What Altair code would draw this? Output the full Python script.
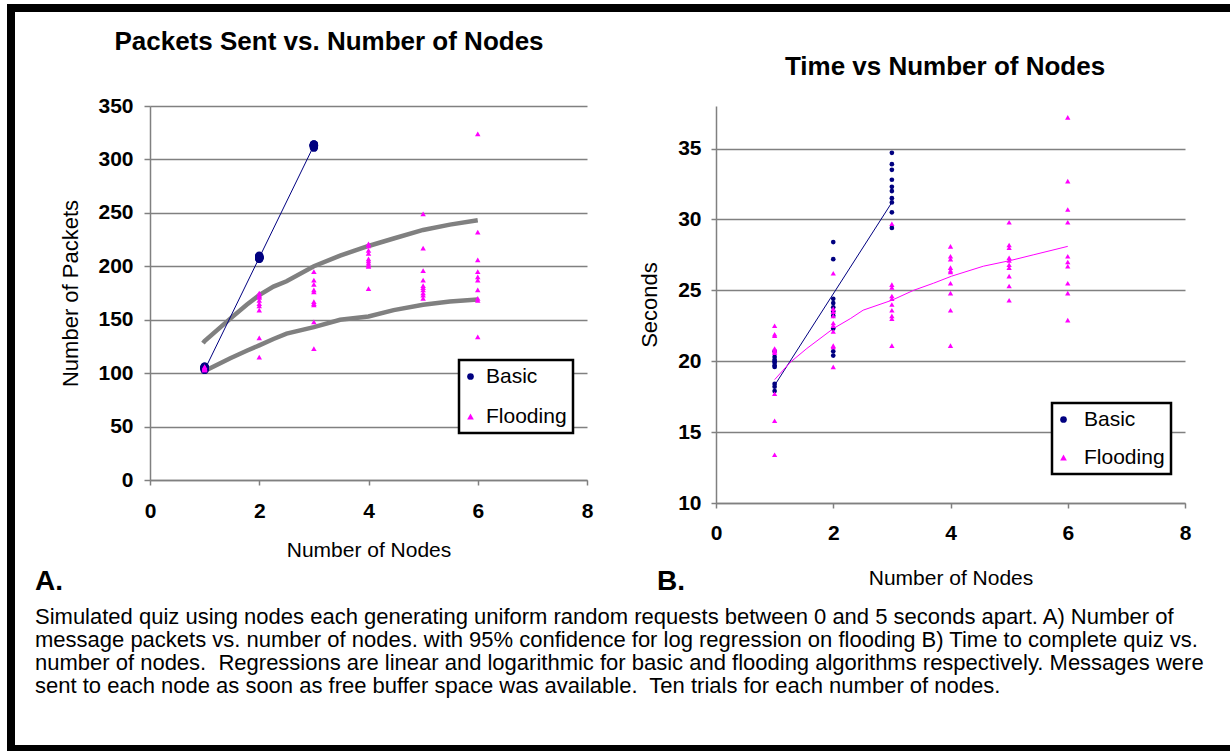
import altair as alt
import pandas as pd

FONT = "Liberation Sans"
GRAY = "#808080"
NAVY = "#000080"
MAGENTA = "#FF00FF"

# ---------------- Panel A: packets vs nodes ----------------
basic_packets = {
    1: [105, 104, 106, 105, 104, 106, 105, 103, 105, 104],
    2: [208, 209, 207, 208, 210, 208, 207, 209, 208, 208],
    3: [313, 312, 314, 313, 311, 313, 314, 312, 313, 313],
}
flood_packets = {
    1: [104, 105, 103, 104, 106, 105, 104, 103, 105, 104],
    2: [175, 173, 171, 168, 165, 163, 159, 133, 115, 172],
    3: [195, 187, 183, 176, 167, 164, 148, 123, 178, 165],
    4: [221, 215, 207, 203, 200, 179, 219, 212, 205, 201],
    5: [249, 217, 196, 187, 182, 178, 173, 170, 180, 175],
    6: [324, 232, 206, 195, 187, 178, 168, 134, 170, 190],
}
basic_fit_nodes = [1, 3]
basic_fit_packets = [103, 313]
band_nodes = [0.97, 1.0, 1.47, 1.77, 2.0, 2.26, 2.5, 3.0, 3.48, 4.0, 4.46, 5.0, 5.49, 6.0]
band_upper = [128, 130, 151, 164, 173, 181, 186, 200, 210, 219, 226, 234, 239, 243]
band_lower = [101, 102, 114, 121, 126, 132, 137, 143, 150, 153, 159, 164, 167, 169]

# ---------------- Panel B: time vs nodes ----------------
basic_time = {
    1: [20.7, 20.3, 20.1, 19.9, 19.7, 19.6, 18.4, 18.2, 17.9, 20.0],
    2: [28.4, 27.2, 24.4, 24.1, 23.8, 23.5, 23.2, 22.3, 20.7, 20.4],
    3: [34.7, 33.9, 33.5, 32.8, 32.3, 32.0, 31.5, 31.2, 30.5, 29.4],
}
flood_time = {
    1: [22.5, 21.9, 21.8, 20.9, 20.7, 20.6, 17.7, 15.8, 13.4, 20.8],
    2: [26.2, 23.7, 23.2, 22.7, 22.1, 21.0, 19.6, 22.5, 23.5, 21.1],
    3: [29.7, 25.4, 24.6, 24.0, 23.6, 23.2, 21.1, 25.2, 23.0, 24.4],
    4: [28.1, 27.4, 26.6, 26.3, 25.5, 24.8, 23.6, 21.1, 27.2, 26.4],
    5: [29.8, 28.2, 27.3, 26.8, 26.0, 25.3, 24.3, 28.0, 26.6, 27.1],
    6: [37.2, 32.7, 30.7, 29.8, 27.4, 27.0, 25.5, 24.8, 22.9, 26.7],
}
basic_time_fit_nodes = [1, 3]
basic_time_fit = [18.3, 31.2]
flood_fit_nodes = [1.0, 1.26, 1.55, 2.0, 2.29, 2.51, 3.0, 3.37, 3.71, 4.02, 4.56, 5.02, 5.41, 6.0]
flood_fit_time = [18.7, 19.9, 20.9, 22.3, 23.0, 23.6, 24.3, 25.0, 25.5, 26.0, 26.7, 27.1, 27.5, 28.1]

x_ticks = [0, 2, 4, 6, 8]
packet_ticks = [0, 50, 100, 150, 200, 250, 300, 350]
second_ticks = [10, 15, 20, 25, 30, 35]
series_names = ["Basic", "Flooding"]

title_a = "Packets Sent vs. Number of Nodes"
title_b = "Time vs Number of Nodes"
caption_lines = [
    "Simulated quiz using nodes each generating uniform random requests between 0 and 5 seconds apart. A) Number of",
    "message packets vs. number of nodes. with 95% confidence for log regression on flooding B) Time to complete quiz vs.",
    "number of nodes.\u00a0 Regressions are linear and logarithmic for basic and flooding algorithms respectively. Messages were",
    "sent to each node as soon as free buffer space was available.\u00a0 Ten trials for each number of nodes.",
]


def long_df(d, name):
    rows = []
    for n, vals in d.items():
        for v in vals:
            rows.append({"nodes": n, "value": v, "series": name})
    return pd.DataFrame(rows)


one = pd.DataFrame({"k": [0]})


def xenc(padding, title_pad):
    return alt.X(
        "nodes:Q",
        scale=alt.Scale(domain=[0, 8], nice=False, zero=False),
        axis=alt.Axis(
            values=x_ticks, title="Number of Nodes", grid=False,
            labelFont=FONT, labelFontSize=21, labelFontWeight="bold", labelColor="black",
            labelPadding=padding, labelFlush=False, labelOverlap=False,
            tickSize=5, tickColor=GRAY, tickWidth=1.5,
            domainColor=GRAY, domainWidth=1.5,
            titleFont=FONT, titleFontSize=21, titleFontWeight="normal", titleColor="black",
            titlePadding=title_pad,
        ),
    )


def yenc(domain, ticks, title, label_pad, tick_size, title_pad):
    return alt.Y(
        "value:Q",
        scale=alt.Scale(domain=domain, nice=False, zero=False),
        axis=alt.Axis(
            values=ticks, title=title, grid=True, gridColor=GRAY, gridWidth=1.5,
            labelFont=FONT, labelFontSize=21, labelFontWeight="bold", labelColor="black",
            labelPadding=label_pad, labelOverlap=False, format="d",
            tickSize=tick_size, tickColor=GRAY, tickWidth=1.5,
            domainColor=GRAY, domainWidth=1.5,
            titleFont=FONT, titleFontSize=22, titleFontWeight="normal", titleColor="black",
            titlePadding=title_pad,
        ),
    )


def legend(lx, ly, row_pad, label_off):
    return alt.Legend(
        title=None, orient="none", legendX=lx, legendY=ly,
        strokeColor="black", fillColor="white", padding=6,
        labelFont=FONT, labelFontSize=21, labelColor="black",
        symbolSize=45, rowPadding=row_pad, labelOffset=label_off, symbolOffset=-5,
        symbolStrokeWidth=0,
    )


def color_shape(leg):
    c = alt.Color("series:N", scale=alt.Scale(domain=series_names, range=[NAVY, MAGENTA]), legend=leg)
    s = alt.Shape("series:N", scale=alt.Scale(domain=series_names, range=["circle", "triangle-up"]), legend=leg)
    return c, s


# ---------- Left panel ----------
XA = xenc(15, 18)
YA = yenc([0, 350], packet_ticks, "Number of Packets", 11, 6, 15)
legA = legend(309, 254, 18, 5)
cA, sA = color_shape(legA)

# transparent frame fixing the page extent (0,0)-(1230,751)
frame = alt.Chart(one).mark_rect(color="white", opacity=0).encode(
    x=alt.value(-150), x2=alt.value(1080), y=alt.value(-106), y2=alt.value(645))
border_left = alt.Chart(one).mark_rect(color="black").encode(
    x=alt.value(-143), x2=alt.value(-135), y=alt.value(-102), y2=alt.value(645))
border_top = alt.Chart(one).mark_rect(color="black").encode(
    x=alt.value(-143), x2=alt.value(1080), y=alt.value(-102), y2=alt.value(-94))
border_bottom = alt.Chart(one).mark_rect(color="black").encode(
    x=alt.value(-143), x2=alt.value(1080), y=alt.value(639), y2=alt.value(645))

band_df = pd.concat([
    pd.DataFrame({"nodes": band_nodes, "value": band_upper, "band": "upper"}),
    pd.DataFrame({"nodes": band_nodes, "value": band_lower, "band": "lower"}),
])
bands = alt.Chart(band_df).mark_line(color=GRAY, strokeWidth=4.5).encode(
    x=XA, y=YA, detail="band:N")
fitA = alt.Chart(pd.DataFrame({"nodes": basic_fit_nodes, "value": basic_fit_packets})).mark_line(
    color=NAVY, strokeWidth=1).encode(x=XA, y=YA)
ptsA_basic = alt.Chart(long_df(basic_packets, "Basic")).mark_point(
    filled=True, size=70, opacity=1).encode(x=XA, y=YA, color=cA, shape=sA)
ptsA_flood = alt.Chart(long_df(flood_packets, "Flooding")).mark_point(
    filled=True, size=30, opacity=1).encode(x=XA, y=YA, color=cA, shape=sA)

titleA = alt.Chart(one).mark_text(font=FONT, fontSize=26, fontWeight="bold", color="black",
                                  baseline="middle", align="center").encode(
    x=alt.value(179), y=alt.value(-64), text=alt.value(title_a))
labelA = alt.Chart(one).mark_text(font=FONT, fontSize=28, fontWeight="bold", color="black",
                                  baseline="alphabetic", align="left").encode(
    x=alt.value(-115), y=alt.value(484), text=alt.value("A."))
labelB = alt.Chart(one).mark_text(font=FONT, fontSize=28, fontWeight="bold", color="black",
                                  baseline="alphabetic", align="left").encode(
    x=alt.value(507), y=alt.value(484), text=alt.value("B."))
caption = alt.Chart(one).mark_text(font=FONT, fontSize=22, color="black", baseline="alphabetic",
                                   align="left", lineBreak="\n", lineHeight=23).encode(
    x=alt.value(-115), y=alt.value(518), text=alt.value("\n".join(caption_lines)))

left = alt.layer(frame, border_left, border_top, border_bottom, bands, fitA, ptsA_basic, ptsA_flood,
                 titleA, labelA, labelB, caption).properties(width=437, height=374)

# ---------- Right panel ----------
XB = xenc(14, 24)
YB = yenc([10, 38], second_ticks, "Seconds", 10, 5, 16)
legB = legend(336, 297, 16, 10)
cB, sB = color_shape(legB)

fitB_basic = alt.Chart(pd.DataFrame({"nodes": basic_time_fit_nodes, "value": basic_time_fit})).mark_line(
    color=NAVY, strokeWidth=1).encode(x=XB, y=YB)
fitB_flood = alt.Chart(pd.DataFrame({"nodes": flood_fit_nodes, "value": flood_fit_time})).mark_line(
    color=MAGENTA, strokeWidth=1).encode(x=XB, y=YB)
ptsB_basic = alt.Chart(long_df(basic_time, "Basic")).mark_point(
    filled=True, size=22, opacity=1).encode(x=XB, y=YB, color=cB, shape=sB)
ptsB_flood = alt.Chart(long_df(flood_time, "Flooding")).mark_point(
    filled=True, size=28, opacity=1).encode(x=XB, y=YB, color=cB, shape=sB)
titleB = alt.Chart(one).mark_text(font=FONT, fontSize=26, fontWeight="bold", color="black",
                                  baseline="middle", align="center").encode(
    x=alt.value(229), y=alt.value(-39), text=alt.value(title_b))

right = alt.layer(fitB_basic, fitB_flood, ptsB_basic, ptsB_flood, titleB).properties(width=469, height=397)

chart = (
    alt.hconcat(left, right, spacing=129, bounds="flush")
    .resolve_scale(color="independent", shape="independent")
    .configure_view(strokeWidth=0)
    .configure_legend(strokeWidth=2.5)
    .properties(padding=0, background="white")
)

chart.save("out.html", embed_options={"renderer": "svg", "actions": False})
